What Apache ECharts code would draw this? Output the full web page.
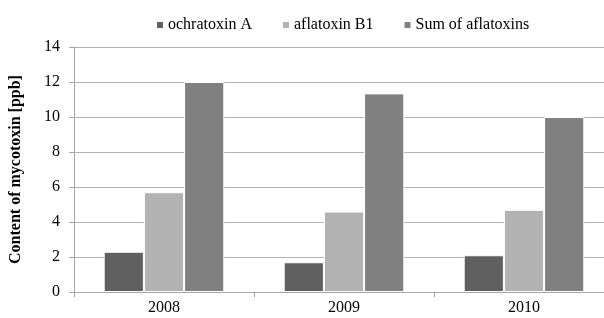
<!DOCTYPE html>
<html>
<head>
<meta charset="utf-8">
<script src="https://cdn.jsdelivr.net/npm/echarts@6/dist/echarts.min.js"></script>
<style>
  html, body { margin: 0; padding: 0; background: #fff; overflow: hidden; }
  /* chart is a little wider than the window: the plot runs past the right edge */
  #chartDom { width: 614px; height: 318px; }
</style>
</head>
<body>
<div id="chartDom"></div>
<script>
// data
const years = ["2008", "2009", "2010"];
const ochratoxinA = [2.3, 1.7, 2.1];
const aflatoxinB1 = [5.7, 4.6, 4.7];
const sumAflatoxins = [12.0, 11.35, 10.0];
const seriesNames = ["ochratoxin A", "aflatoxin B1", "Sum of aflatoxins"];

const font = "Liberation Serif, Times New Roman, serif";
const chart = echarts.init(document.getElementById("chartDom"));

function bar(name, data, color) {
  return {
    name: name,
    type: "bar",
    data: data,
    barGap: "0%",
    barCategoryGap: "33%",
    itemStyle: { color: color, borderColor: "#fff", borderWidth: 1 },
  };
}

chart.setOption({
  animation: false,
  textStyle: { fontFamily: font },
  legend: {
    data: seriesNames,
    top: 12,
    left: 150,
    icon: "rect",
    itemWidth: 8,
    itemHeight: 8,
    itemGap: 29,
    selectedMode: false,
    textStyle: { fontFamily: font, fontSize: 16, color: "#000", padding: [0, 0, 0, -1] },
  },
  grid: { left: 73, right: 0, top: 47, bottom: 26, containLabel: false },
  xAxis: {
    type: "category",
    data: years,
    axisLine: { lineStyle: { color: "#a6a6a6" } },
    axisTick: { show: true, length: 5, lineStyle: { color: "#a6a6a6" } },
    axisLabel: { fontFamily: font, fontSize: 16, color: "#000", margin: 8 },
  },
  yAxis: {
    type: "value",
    min: 0,
    max: 14,
    interval: 2,
    name: "Content of mycotoxin [ppb]",
    nameLocation: "middle",
    nameGap: 50,
    nameTextStyle: { fontFamily: font, fontSize: 16, fontWeight: "bold", color: "#000" },
    axisLine: { show: true, lineStyle: { color: "#a6a6a6" } },
    axisTick: { show: true, length: 5, lineStyle: { color: "#a6a6a6" } },
    splitLine: { lineStyle: { color: "#b3b3b3" } },
    axisLabel: { fontFamily: font, fontSize: 16, color: "#000", margin: 14 },
  },
  series: [
    bar(seriesNames[0], ochratoxinA, "#606060"),
    bar(seriesNames[1], aflatoxinB1, "#b2b2b2"),
    bar(seriesNames[2], sumAflatoxins, "#808080"),
  ],
});
</script>
</body>
</html>
